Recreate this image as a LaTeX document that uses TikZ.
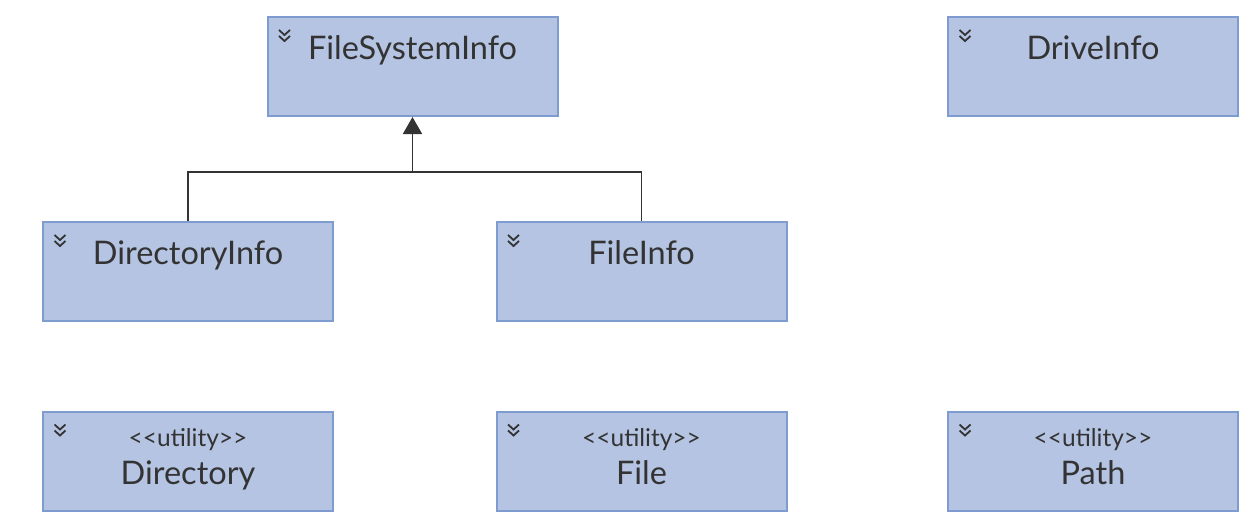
\documentclass[tikz,border=0pt]{standalone}
\usepackage{fontspec}
\setmainfont{Lato}
\usetikzlibrary{positioning,arrows.meta}
\definecolor{boxfill}{HTML}{B4C4E2}
\definecolor{boxline}{HTML}{7E9CCF}
\definecolor{ink}{HTML}{333333}
\tikzset{
	classbox/.style={draw=boxline,line width=2pt,fill=boxfill,minimum width=290pt,minimum height=99pt,inner sep=0pt},
	classname/.style={font=\fontsize{32.5}{38}\selectfont,text=ink,anchor=base,inner sep=0pt},
	stereo/.style={font=\fontsize{24.5}{28}\selectfont,text=ink,anchor=base,inner sep=0pt},
	chevron/.pic={\draw[ink,line width=1.8pt](-5.5,0)--(0,5)--(5.5,0)(-5.5,6)--(0,11)--(5.5,6);}
}
\begin{document}
\begin{tikzpicture}[x=1pt,y=-1pt]
	\useasboundingbox(0,0)rectangle(1257,520);
	% class boxes
	\node[classbox](FSI)at(412.5,66.5){};
	\node[classbox](Drive)at(1093,66.5){};
	\node[classbox](DirInfo)at(188,271.5){};
	\node[classbox](FileInfo)at(641.5,271.5){};
	\node[classbox](Dir)at(188,461){};
	\node[classbox](Fil)at(641.5,461){};
	\node[classbox](Path)at(1093,461){};
	\foreach\b in{FSI,Drive,DirInfo,FileInfo,Dir,Fil,Path}{\pic at([xshift=18pt,yshift=-14pt]\b.north west){chevron};}
	% names
	\node[classname](FSIname)at([yshift=-43pt]FSI.north){FileSystemInfo};
	\node[classname](Drivename)at([yshift=-43pt]Drive.north){DriveInfo};
	\node[classname](DirInfoname)at([yshift=-43pt]DirInfo.north){DirectoryInfo};
	\node[classname](FileInfoname)at([yshift=-43pt]FileInfo.north){FileInfo};
	\foreach\b/\t in{Dir/Directory,Fil/File,Path/Path}{
		\node[stereo](\b st)at([yshift=-36pt]\b.north){<{}<utility>{}>};
		\node[classname](\b name)at([yshift=-74pt]\b.north){\t};
	}
	% generalization
	\coordinate(J)at(FSI.south|-0,172);
	\draw[ink,line width=1.8pt](DirInfo.north)|-(J)-|(FileInfo.north);
	\draw[ink,line width=1.8pt,-{Triangle[length=17pt,width=19pt]}](J)--(FSI.south);
\end{tikzpicture}
\end{document}
